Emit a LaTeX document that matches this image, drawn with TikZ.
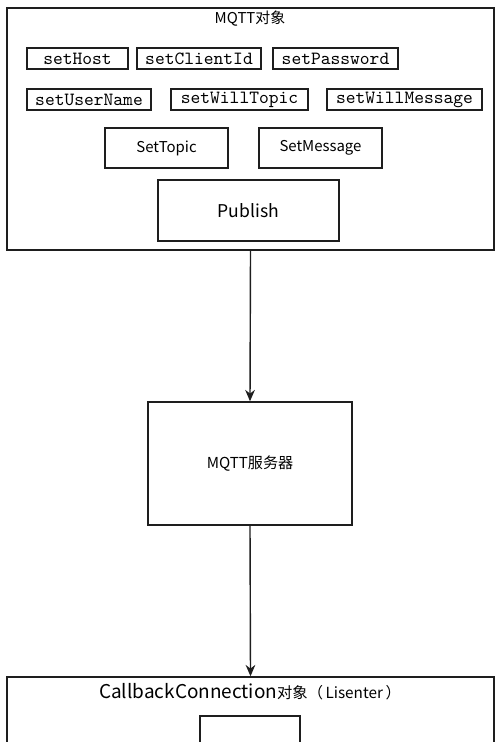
\documentclass[tikz,border=0pt]{standalone}
\usepackage{fontspec}
\setmainfont{Noto Sans CJK SC}
\newfontfamily\codefont{Latin Modern Mono}
\usepackage{tikz}
\usetikzlibrary{arrows.meta}
\definecolor{lineGray}{RGB}{30, 30, 30}

\begin{document}
\begin{tikzpicture}[x=0.02cm, y=-0.02cm,
    frame/.style={draw=lineGray, line width=0.8pt, inner sep=0pt},
    setter/.style={frame, line width=1pt, minimum height=0.42cm, font=\codefont\fontsize{10.6}{11}\selectfont},
    action/.style={frame, font=\fontsize{8.5}{10}\selectfont},
    flow/.style={-{Stealth[length=6.5pt, width=5.5pt]}, lineGray, line width=0.8pt}]
    \useasboundingbox (0,0) rectangle (500,742);
    \clip (0,0) rectangle (500,742);
    % MQTT object
    \node[frame, minimum width=9.74cm, minimum height=4.84cm] (mqtt) at (250.5,129) {};
    \node[font=\fontsize{8.5}{10}\selectfont] (mqttTitle) at (250,19) {MQTT对象};
    \node[setter, minimum width=2.02cm] (setHost) at (77.5,58.5) {setHost};
    \node[setter, minimum width=2.48cm] (setClientId) at (199,58.5) {setClientId};
    \node[setter, minimum width=2.5cm] (setPassword) at (335.5,58.5) {setPassword};
    \node[setter, minimum width=2.48cm] (setUserName) at (89,99.5) {setUserName};
    \node[setter, minimum width=2.74cm] (setWillTopic) at (239.5,99.5) {setWillTopic};
    \node[setter, minimum width=3.1cm] (setWillMessage) at (404.5,99.5) {setWillMessage};
    \node[action, minimum width=2.46cm, minimum height=0.8cm] (setTopic) at (166.5,148) {SetTopic};
    \node[action, minimum width=2.46cm, minimum height=0.8cm] (setMessage) at (320.5,148) {SetMessage};
    \node[action, minimum width=3.62cm, minimum height=1.22cm, font=\fontsize{10}{12}\selectfont] (publish) at (248.5,210.5) {Publish};
    % server
    \node[action, minimum width=4.08cm, minimum height=2.46cm, font=\fontsize{8.6}{10}\selectfont] (server) at (250,463.5) {MQTT服务器};
    % callback object
    \node[frame, minimum width=9.74cm, minimum height=1.72cm] (callback) at (250.5,720) {};
    \node[font=\fontsize{10.8}{12}\selectfont] (callbackTitle) at (250,692) {CallbackConnection{\fontsize{8.7}{10}\selectfont 对象（\,Lisenter\,）}};
    \node[frame, minimum width=2cm, minimum height=0.96cm] (handler) at (250,740) {};
    \draw[flow] (mqtt.south) -- (server.north);
    \draw[flow] (server.south) -- (callback.north);
\end{tikzpicture}
\end{document}
